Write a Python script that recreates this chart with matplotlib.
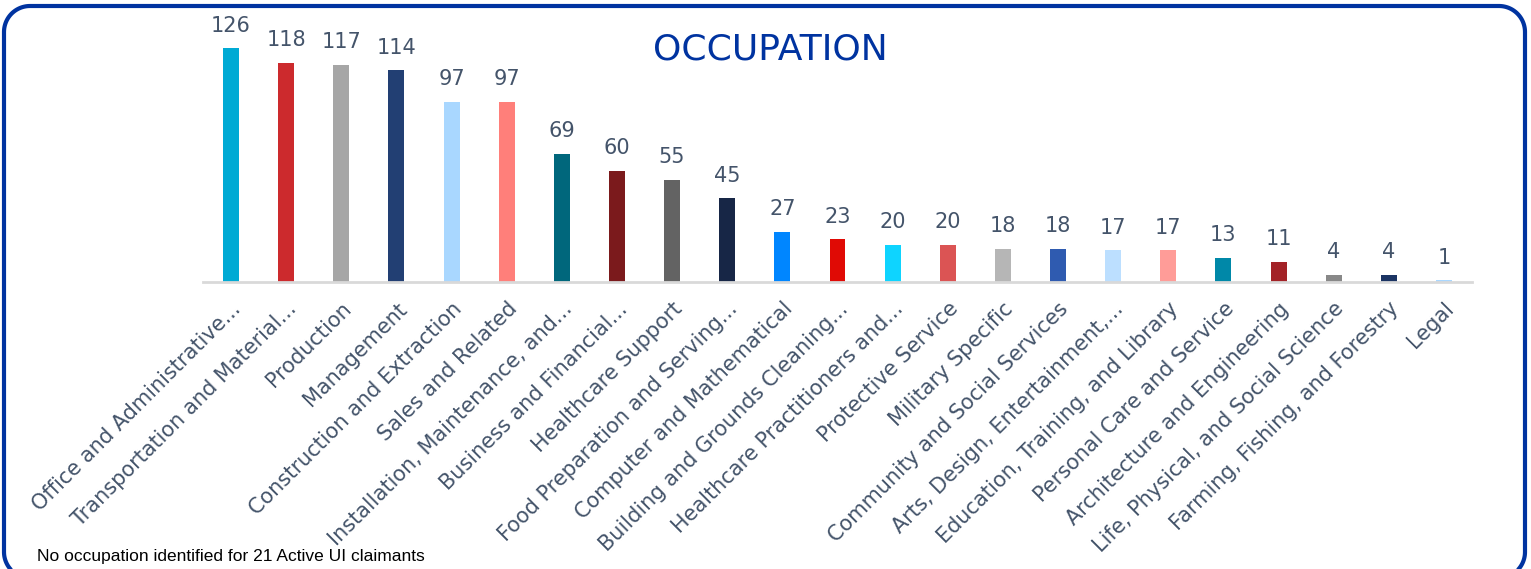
import matplotlib
matplotlib.use("Agg")
import matplotlib.pyplot as plt
import numpy as np

categories = [
    "Office and Administrative...", "Transportation and Material...", "Production",
    "Management", "Construction and Extraction", "Sales and Related",
    "Installation, Maintenance, and...", "Business and Financial...", "Healthcare Support",
    "Food Preparation and Serving...", "Computer and Mathematical", "Building and Grounds Cleaning...",
    "Healthcare Practitioners and...", "Protective Service", "Military Specific",
    "Community and Social Services", "Arts, Design, Entertainment,...",
    "Education, Training, and Library", "Personal Care and Service",
    "Architecture and Engineering", "Life, Physical, and Social Science",
    "Farming, Fishing, and Forestry", "Legal",
]
values = [126, 118, 117, 114, 97, 97, 69, 60, 55, 45, 27, 23, 20, 20, 18, 18, 17, 17, 13, 11, 4, 4, 1]
colors = [
    "#00AAD4", "#CC2A2D", "#A6A6A6", "#223F73", "#A9D7FF", "#FF7F7A", "#00677C",
    "#7B1A1C", "#636363", "#172646", "#0086FF", "#E00A05", "#0ED4FF", "#DB5454",
    "#B6B6B6", "#2F5BB0", "#BCDFFF", "#FF9C98", "#0088A8", "#A32227", "#888888",
    "#1B3463", "#A9D7FF",
]
title = "OCCUPATION"
footnote = "No occupation identified for 21 Active UI claimants"

W, H = 1531, 569
fig = plt.figure(figsize=(W / 100, H / 100), dpi=100)

# background axes in pixel units for the rounded border (open at the bottom)
bg = fig.add_axes([0, 0, 1, 1])
bg.set_xlim(0, W)
bg.set_ylim(H, 0)
bg.axis("off")
r, bl, br, bt, bb = 26, 4, 1525, 6, 578


def arc(cx, cy, t0, t1):
    t = np.radians(np.linspace(t0, t1, 30))
    return cx + r * np.cos(t), cy + r * np.sin(t)


segs = [arc(bl + r, bb - r, 90, 180), arc(bl + r, bt + r, 180, 270),
        arc(br - r, bt + r, 270, 360), arc(br - r, bb - r, 0, 90)]
px = np.concatenate([s[0] for s in segs])
py = np.concatenate([s[1] for s in segs])
bg.plot(px, py, color="#0033A0", linewidth=3, solid_capstyle="butt")

left, right = 203.5, 1471.5
base, top = 282, 20
ax = fig.add_axes([left / W, 1 - base / H, (right - left) / W, (base - top) / H])
x = list(range(len(values)))
ax.bar(x, values, width=0.29, color=colors, zorder=2)
ax.set_xlim(-0.5, len(values) - 0.5)
ax.set_ylim(0, 262 / 1.857)
for s in ["top", "right", "left"]:
    ax.spines[s].set_visible(False)
ax.spines["bottom"].set_color("#D9D9D9")
ax.spines["bottom"].set_linewidth(2)
ax.set_yticks([])
ax.set_xticks(x)
ax.set_xticklabels(categories, rotation=45, ha="right", rotation_mode="anchor",
                   fontsize=15, color="#44546A", family="DejaVu Sans")
ax.tick_params(axis="x", length=0, pad=12)
for xi, v in zip(x, values):
    ax.annotate(str(v), (xi, v), xytext=(0, 9), textcoords="offset points",
                ha="center", va="bottom", fontsize=15, color="#44546A",
                family="DejaVu Sans")

fig.text(770 / W, 1 - 50 / H, title, ha="center", va="center", fontsize=26,
         color="#0033A0", family="DejaVu Sans")
fig.text(37 / W, 1 - 556 / H, footnote, ha="left", va="center", fontsize=12.5,
         color="black", family="Liberation Sans")

fig.savefig("out.png", dpi=100)
